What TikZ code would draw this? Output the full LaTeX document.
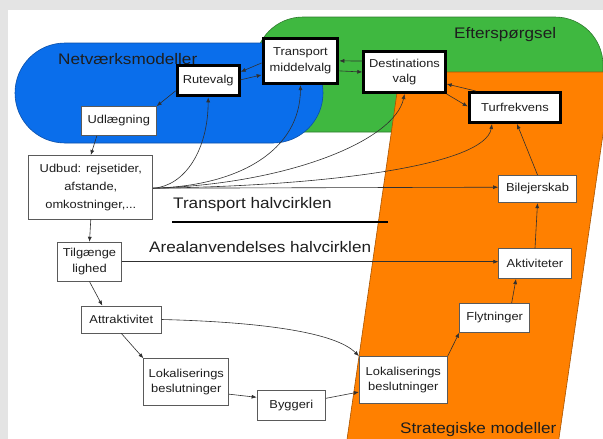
\documentclass[tikz,border=0pt]{standalone}
\usepackage{fontspec}
\setmainfont{Liberation Sans}[FakeStretch=1.12]
\usetikzlibrary{arrows.meta}
\definecolor{framegray}{HTML}{E4E4E4}
\definecolor{netblue}{HTML}{0A6EEB}
\definecolor{netedge}{HTML}{0A4FA8}
\definecolor{demgreen}{HTML}{3FB840}
\definecolor{demedge}{HTML}{2E7A2E}
\definecolor{stratorange}{HTML}{FF8000}
\definecolor{stratedge}{HTML}{A85400}
\definecolor{boxedge}{HTML}{5A5A5A}
\definecolor{linkgray}{HTML}{303030}
\definecolor{labelink}{HTML}{1E1E1E}
\begin{document}
\begin{tikzpicture}[x=1pt,y=-1pt,
  thinbox/.style={draw=boxedge, line width=0.8pt, fill=white, inner sep=0pt,
    align=center, text=labelink, font=\fontsize{11.5}{15.5}\selectfont},
  thickbox/.style={thinbox, draw=black, line width=3pt},
  link/.style={draw=linkgray, line width=0.6pt, -{Latex[length=5pt,width=4pt]}},
  region/.style={inner sep=0pt, anchor=base west, text=labelink,
    font=\fontsize{15.3}{18}\selectfont}
]
\useasboundingbox (0,0) rectangle (603,439);
\clip (0,0) rectangle (603,439);

% frame and page
\fill[framegray] (0,0) rectangle (603,439);
\fill[white] (8,10) rectangle (603,439);

% model regions
\draw[fill=demgreen, draw=demedge, line width=0.6pt, rounded corners=48pt]
  (255,17) rectangle (603,132);
\draw[fill=netblue, draw=netedge, line width=0.6pt, rounded corners=50pt]
  (15,43) rectangle (323,143);
\draw[fill=stratorange, draw=stratedge, line width=0.6pt]
  (400,72) -- (612,72) -- (557,452) -- (345.2,452) -- cycle;

% region titles
\node[region] (netlbl) at (58,64) {Netværksmodeller};
\node[region] (eftlbl) at (454,38) {Efterspørgsel};
\node[region] (stratlbl) at (400,433) {Strategiske modeller};
\node[region] (tranlbl) at (173,208) {Transport halvcirklen};
\node[region] (arealbl) at (149,252) {Arealanvendelses halvcirklen};
\coordinate (divA) at (172,222);
\coordinate (divB) at (388,222);
\draw[line width=1.6pt, black] (divA) -- (divB);

% demand boxes
\node[thickbox, minimum width=62pt, minimum height=30pt] (rute) at (208.2,80.8) {Rutevalg};
\node[thickbox, minimum width=74.6pt, minimum height=45.3pt] (trans) at (300.5,60.9) {Transport\\middelvalg};
\node[thickbox, minimum width=81.4pt, minimum height=41pt] (dest) at (404.5,72) {Destinations\\valg};
\node[thickbox, minimum width=91.6pt, minimum height=30pt] (turf) at (515,107.5) {Turfrekvens};

% supply and land-use boxes
\node[thinbox, minimum width=75pt, minimum height=29pt] (udl) at (118.8,121) {Udlægning};
\node[thinbox, minimum width=124pt, minimum height=63.5pt, font=\fontsize{11.5}{18}\selectfont]
  (udbud) at (90.8,187.2) {Udbud: rejsetider,\\afstande,\\omkostninger,...};
\node[thinbox, minimum width=78pt, minimum height=27.5pt] (bil) at (537.5,189) {Bilejerskab};
\node[thinbox, minimum width=63.5pt, minimum height=39pt] (tilg) at (89.5,261.7) {Tilgænge\\lighed};
\node[thinbox, minimum width=80pt, minimum height=27pt] (attr) at (121.3,319.5) {Attraktivitet};
\node[thinbox, minimum width=85pt, minimum height=47pt] (lokL) at (186.3,382.2) {Lokaliserings\\beslutninger};
\node[thinbox, minimum width=68.5pt, minimum height=30pt] (bygg) at (291.3,405.3) {Byggeri};
\node[thinbox, minimum width=88pt, minimum height=47pt] (lokR) at (403.3,380) {Lokaliserings\\beslutninger};
\node[thinbox, minimum width=70pt, minimum height=29pt] (flyt) at (494.7,317.7) {Flytninger};
\node[thinbox, minimum width=72.5pt, minimum height=30pt] (akt) at (535,263.7) {Aktiviteter};

% network loop
\draw[link] ([yshift=-10pt]rute.west) -- (udl.north east);
\draw[link] ([xshift=-22pt]udl.south) -- (udbud.north);
\draw[link] ([yshift=-2pt]trans.west) -- ([yshift=9pt]rute.east);
\draw[link] ([yshift=1pt]rute.east) -- ([yshift=-14pt]trans.west);
\draw[link] ([yshift=11pt]dest.west) -- (trans.east);
\draw[link] ([yshift=-10pt]trans.east) -- (dest.west);
\draw[link] ([xshift=8pt]turf.north west) -- ([yshift=-12pt]dest.east);
\draw[link] (dest.south east) -- ([yshift=1pt]turf.west);

% supply feeding the demand models
\draw[link] ([yshift=-1pt]udbud.east) .. controls (185,186) and (208,150) .. (rute.south);
\draw[link] ([yshift=-1pt]udbud.east) .. controls (240,186) and (300,150) .. (trans.south);
\draw[link] ([yshift=-1pt]udbud.east) .. controls (290,184) and (395,140) .. (dest.south);
\draw[link] ([yshift=-1pt]udbud.east) .. controls (330,186) and (485,165) .. ([xshift=-23pt]turf.south);
\draw[link] ([yshift=-1pt]udbud.east) -- (udbud.east -| bil.west);

% strategic chain
\draw[link] (bil.north) -- ([xshift=2pt]turf.south);
\draw[link] (akt.north) -- (bil.south);
\draw[link] ([xshift=17pt]flyt.north) -- ([xshift=-19pt]akt.south);
\draw[link] (lokR.north east) -- (flyt.south west);
\draw[link] ([yshift=7pt]bygg.east) -- ([yshift=-12pt]lokR.west);

% land-use chain
\draw[link] (udbud.south) -- (tilg.north);
\draw[link] (tilg.south) -- ([xshift=-19pt]attr.north);
\draw[link] (attr.south) -- (lokL.north west);
\draw[link] ([yshift=-12pt]lokL.east) -- ([yshift=8pt]bygg.west);
\draw[link] (tilg.east) -- (tilg.east -| akt.west);
\draw[link] (attr.east) .. controls (260,322) and (335,332) .. (lokR.north west);
\end{tikzpicture}
\end{document}
